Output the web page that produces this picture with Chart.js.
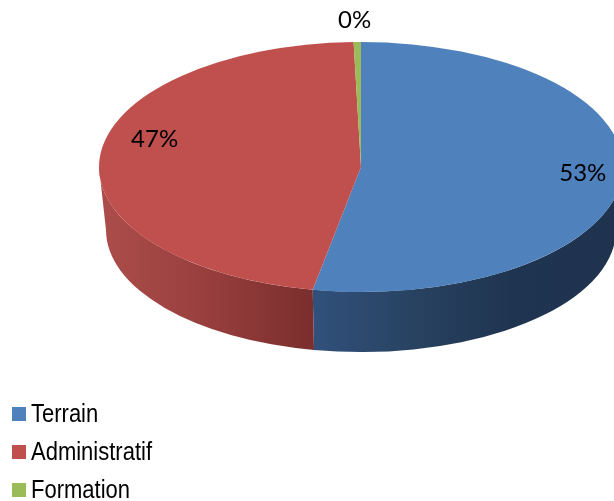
<!DOCTYPE html>
<html>
<head>
<meta charset="utf-8">
<script src="https://cdn.jsdelivr.net/npm/chart.js@4"></script>
<style>
html,body{margin:0;padding:0;background:#fff;overflow:hidden;}
#wrap{position:relative;width:614px;height:501px;overflow:hidden;}
#legend{position:absolute;left:12px;top:394px;font-family:"Liberation Sans",sans-serif;font-size:25px;color:#000;}
#legend div{height:38px;line-height:38px;white-space:nowrap;}
#legend span{display:inline-block;width:14px;height:14px;margin-right:5px;vertical-align:1.5px;}
#legend b{display:inline-block;font-weight:normal;transform:scaleX(.88);transform-origin:left center;}
</style>
</head>
<body>
<div id="wrap">
<canvas id="pie" width="614" height="501"></canvas>
<div id="legend"></div>
</div>
<script>
// ===========================
// DATA
// ===========================
const labels = ["Terrain","Administratif","Formation"];
const values = [52.95,46.6,0.45];
const colors = ["#4f81bd","#c0504d","#9bbb59"];

// ===========================
// LOOK OF THE 3D PIE
// ===========================
const SQUISH = 125/262;
const CENTER_Y = 167;

// the bottom rim is a little smaller than the top (perspective)
const WALL_DROP = 63;
const WALL_RX = 255;
const WALL_RY = 122;

// side wall gradients, one per slice
const wallStops = [
    [[0,"#31517c"],[0.35,"#27415f"],[0.65,"#1f3450"],[1,"#1f334f"]],
    [[0,"#ac4d4b"],[0.5,"#983f3e"],[1,"#7a2e2d"]],
    [[0,"#7d9648"],[1,"#7d9648"]]
];

// where the % labels sit, relative to the slice
const labelPlace = [
    {r:0.85,dx:0,dy:-4},
    {r:0.79,dx:0,dy:-20},
    {r:1.18,dx:-2,dy:1}
];

const fake3d = {
    id:"fake3d",
    beforeDatasetsDraw(chart){
        const ctx = chart.ctx;
        const arcs = chart.getDatasetMeta(0).data;
        const cx = arcs[0].x;
        const cy = arcs[0].y;
        const rx = arcs[0].outerRadius;
        const ry = rx*SQUISH;

        // side wall, only the front half of the pie shows it
        arcs.forEach((arc,i) => {
            const a0 = Math.max(arc.startAngle,0);
            const a1 = Math.min(arc.endAngle,Math.PI);
            if(a1 <= a0) return;
            const xs = [cx+rx*Math.cos(a0),cx+rx*Math.cos(a1)];
            const g = ctx.createLinearGradient(Math.min(...xs),0,Math.max(...xs),0);
            wallStops[i].forEach(s => g.addColorStop(s[0],s[1]));
            ctx.beginPath();
            ctx.ellipse(cx,cy,rx,ry,0,a0,a1);
            ctx.ellipse(cx,cy+WALL_DROP,WALL_RX,WALL_RY,0,a1,a0,true);
            ctx.closePath();
            ctx.fillStyle = g;
            ctx.fill();
        });

        // flatten the pie top into an ellipse
        ctx.save();
        ctx.translate(cx,cy);
        ctx.scale(1,SQUISH);
        ctx.translate(-cx,-cy);
    },
    afterDatasetsDraw(chart){
        const ctx = chart.ctx;
        ctx.restore();

        const arcs = chart.getDatasetMeta(0).data;
        const total = values.reduce((a,b) => a+b,0);
        ctx.font = "24px Lato";
        ctx.fillStyle = "#000";
        ctx.textAlign = "center";
        ctx.textBaseline = "middle";
        arcs.forEach((arc,i) => {
            const mid = (arc.startAngle+arc.endAngle)/2;
            const p = labelPlace[i];
            const x = arc.x+arc.outerRadius*p.r*Math.cos(mid)+p.dx;
            const y = arc.y+arc.outerRadius*SQUISH*p.r*Math.sin(mid)+p.dy;
            ctx.fillText(Math.round(values[i]/total*100)+"%",x,y);
        });
    }
};

// ===========================
// CHART
// ===========================
new Chart(document.getElementById("pie"),{
    type:"pie",
    data:{
        labels:labels,
        datasets:[{
            data:values,
            backgroundColor:colors,
            borderWidth:0,
            clip:false
        }]
    },
    options:{
        responsive:false,
        animation:false,
        radius:262,
        layout:{padding:{left:108,bottom:501-2*CENTER_Y}},
        plugins:{legend:{display:false},tooltip:{enabled:false}}
    },
    plugins:[fake3d]
});

// ===========================
// LEGEND
// ===========================
const legend = document.getElementById("legend");
labels.forEach((name,i) => {
    const row = document.createElement("div");
    const box = document.createElement("span");
    const text = document.createElement("b");
    box.style.background = colors[i];
    text.textContent = name;
    row.appendChild(box);
    row.appendChild(text);
    legend.appendChild(row);
});
</script>
</body>
</html>
